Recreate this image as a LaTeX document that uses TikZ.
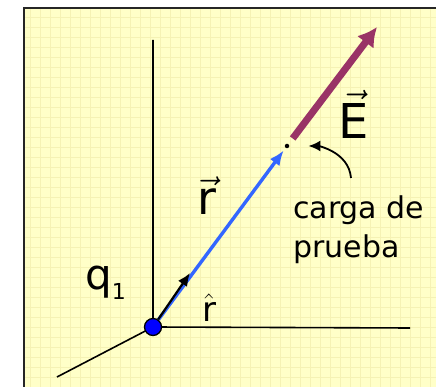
\RequirePackage{fix-cm}
\documentclass[tikz,border=0pt]{standalone}
\usepackage{amsmath}
\usepackage{fontspec}
\setmainfont{DejaVu Sans}
\usepackage{xcolor}
\usetikzlibrary{arrows.meta}

\definecolor{fondo}{HTML}{FFFFC8}
\definecolor{rejilla}{HTML}{F5F2B4}
\definecolor{azulr}{HTML}{3366FF}
\definecolor{moradoE}{HTML}{993366}

\tikzset{
  etiqueta/.style={inner sep=0pt, anchor=base},
  eje/.style={line width=1.6pt},
}

\begin{document}
\begin{tikzpicture}[x=1pt, y=1pt, >=latex]
    % Fondo
    \useasboundingbox (0,0) rectangle (436,387);
    \fill[fondo] (24,0) rectangle (436,379);
    \draw[rejilla, line width=0.6pt, step=10pt] (24,0) grid (436,379);
    \draw[line width=2pt, black!85] (24,0) -- (24,379) -- (436,379);

    % Ejes
    \coordinate (O) at (153,60);
    \coordinate (ejeY) at (153,347);
    \coordinate (ejeX) at (410,59);
    \coordinate (ejeZ) at (57,10);
    \draw[eje] (ejeY) -- (O) -- (ejeX);
    \draw[eje] (ejeZ) -- (O);

    % Carga q1 y carga de prueba
    \node[circle, draw=black, line width=1.3pt, fill=blue, minimum size=17pt, inner sep=0pt] (q1) at (O) {};
    \node[circle, fill=black, inner sep=0pt, minimum size=4.5pt] (prueba) at (287,241) {};
    \coordinate (puntaE) at (377,360);
    \coordinate (puntaR) at (190,114);
    \coordinate (cola) at (351,209);

    % Vectores
    \draw[azulr, line width=3.4pt, -{Latex[length=15pt,width=12pt]}, shorten >=3pt] (q1) -- (prueba);
    \draw[moradoE, line width=7pt, -{Latex[length=19pt,width=21pt]}, shorten <=7pt] (prueba) -- (puntaE);
    \draw[line width=2.2pt, -{Latex[length=13pt,width=11pt]}] (q1) -- (puntaR);
    \draw[line width=1.8pt, -{Latex[length=12pt,width=11pt]}, shorten >=19pt] (cola) to[out=95, in=0] (prueba);

    % Textos
    \node[etiqueta, font=\fontsize{48}{56}\selectfont] (E) at (353.5,248) {$\vec{\text{E}}$};
    \node[etiqueta, font=\fontsize{46}{54}\selectfont] (r) at (207,172) {$\vec{\text{r}}$};
    \node[etiqueta, font=\fontsize{34}{40}\selectfont] (rgorro) at (209,65) {$\hat{\text{r}}$};
    \node[etiqueta, anchor=base west, font=\fontsize{42}{50}\selectfont] (q) at (85,97) {q\raisebox{-10pt}{\fontsize{22}{24}\selectfont 1}};
    \node[etiqueta, anchor=base west, align=left, font=\fontsize{30}{39}\selectfont] (texto) at (293,129) {carga de\\prueba};
\end{tikzpicture}
\end{document}
